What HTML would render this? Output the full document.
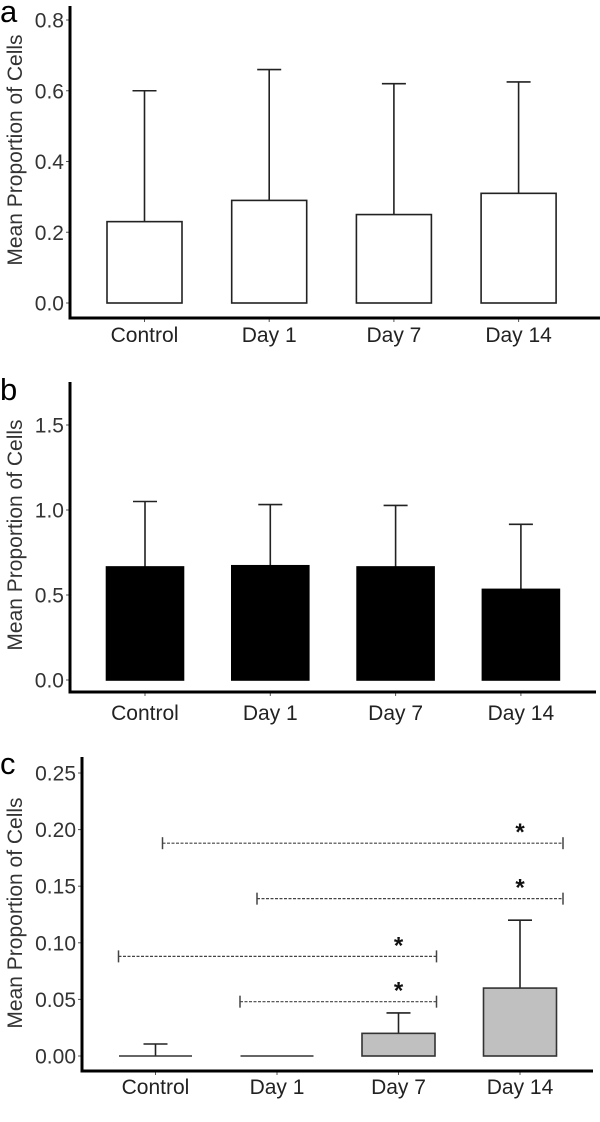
<!DOCTYPE html>
<html><head><meta charset="utf-8"><style>
body{margin:0;background:#fff}
svg{display:block;font-family:"Liberation Sans",Arial,sans-serif}
</style></head><body>
<svg id="chart" width="600" height="1122" viewBox="0 0 600 1122" xmlns="http://www.w3.org/2000/svg"></svg>
<script>
const categories = ["Control","Day 1","Day 7","Day 14"];
const aMeans = [0.23, 0.29, 0.25, 0.31];
const aErrs = [0.60, 0.66, 0.62, 0.625];
const aTicks = ["0.0","0.2","0.4","0.6","0.8"];
const aTickVals = [0, 0.2, 0.4, 0.6, 0.8];
const bMeans = [0.665, 0.672, 0.665, 0.533];
const bErrs = [1.05, 1.032, 1.027, 0.916];
const bTicks = ["0.0","0.5","1.0","1.5"];
const bTickVals = [0, 0.5, 1.0, 1.5];
const cMeans = [0, 0, 0.02, 0.06];
const cErrs = [0.0106, 0, 0.038, 0.12];
const cTicks = ["0.00","0.05","0.10","0.15","0.20","0.25"];
const cTickVals = [0, 0.05, 0.10, 0.15, 0.20, 0.25];
const cBrackets = [[0,3,0.188],[1,3,0.139],[0,2,0.088],[1,2,0.048]];

const svg = document.getElementById('chart');
const NS = 'http://www.w3.org/2000/svg';
function mk(tag, attrs, parent){const e=document.createElementNS(NS,tag);for(const k in attrs)e.setAttribute(k,attrs[k]);(parent||svg).appendChild(e);return e;}

function panel(p){
  const g = mk('g',{});
  
  
  const y = v => p.y0 - (v/p.vmax)*(p.y0-p.yTop);
  const x = i => p.x0 + i*p.step;
  const lt = mk('text',{x:0,y:p.letterY,'font-size':31,fill:'#000'},g); lt.textContent=p.letter;
  
  
  const yt = mk('text',{x:0,y:0,'font-size':21,fill:'#333','text-anchor':'middle',transform:`translate(22,${p.titleY}) rotate(-90)`},g);
  yt.textContent='Mean Proportion of Cells';
  
  
  p.tickVals.forEach((v,i)=>{
    mk('line',{x1:p.ax-4,x2:p.ax,y1:y(v),y2:y(v),stroke:'#555','stroke-width':1},g);
    const t=mk('text',{x:p.ax-6,y:y(v)+7.5,'font-size':21,fill:'#333','text-anchor':'end'},g);
    t.textContent=p.ticks[i];
    
    
  });
  categories.forEach((c,i)=>{
    const cx=x(i), m=p.means[i], e=p.errs[i];
    if(e>m){
      mk('line',{x1:cx,x2:cx,y1:y(m),y2:y(e),stroke:'#222','stroke-width':1.6},g);
      mk('line',{x1:cx-12,x2:cx+12,y1:y(e),y2:y(e),stroke:'#222','stroke-width':1.6},g);
    }
    let r;
    if(y(0)-y(m) < 1){
      r=mk('line',{x1:cx-p.bw/2,x2:cx+p.bw/2,y1:y(m),y2:y(m),stroke:p.stroke,'stroke-width':1.6},g);
    } else {
      r=mk('rect',{x:cx-p.bw/2,y:y(m),width:p.bw,height:y(0)-y(m),fill:p.fill,stroke:p.stroke,'stroke-width':1.6},g);
    }
    
    
    mk('line',{x1:cx,x2:cx,y1:p.xAxisY,y2:p.xAxisY+4,stroke:'#555','stroke-width':1},g);
    const t=mk('text',{x:cx,y:p.labelY,'font-size':21,fill:'#222','text-anchor':'middle'},g);
    t.textContent=c;
    
    
  });
  const ya=mk('line',{x1:p.ax,x2:p.ax,y1:p.axTop,y2:p.xAxisY+1.5,stroke:'#000','stroke-width':3},g);
  
  
  const xa=mk('line',{x1:p.ax-1.5,x2:p.axRight,y1:p.xAxisY,y2:p.xAxisY,stroke:'#000','stroke-width':3},g);
  
  
  if(p.brackets){
    p.brackets.forEach(b=>{
      let off = -37;
      if(b[0]===0 && b[1]===3) off = 7;
      if(b[0]===1 && b[1]===3) off = -20;
      const x1=x(b[0])+off, x2=x(b[1])+(b[1]===3?43:38), yy=y(b[2]);
      const bl=mk('line',{x1:x1,x2:x2,y1:yy,y2:yy,stroke:'#444','stroke-width':1.2,'stroke-dasharray':'3,1.5'},g);
      
      
      mk('line',{x1:x1,x2:x1,y1:yy-6,y2:yy+6,stroke:'#444','stroke-width':1.5},g);
      mk('line',{x1:x2,x2:x2,y1:yy-6,y2:yy+6,stroke:'#444','stroke-width':1.5},g);
      const s=mk('text',{x:x(b[1]),y:yy-3,'font-size':24,'font-weight':'bold',fill:'#111','text-anchor':'middle'},g);
      s.textContent='*';
      
      
    });
  }
}

panel({letter:'a',letterY:22,titleY:150,means:aMeans,errs:aErrs,ticks:aTicks,tickVals:aTickVals,vmax:0.8,
  y0:303,yTop:20,ax:70,axTop:6,xAxisY:318,axRight:600,x0:144.5,step:124.7,bw:75,fill:'#fff',stroke:'#222',labelY:342});
panel({letter:'b',letterY:400,titleY:535,means:bMeans,errs:bErrs,ticks:bTicks,tickVals:bTickVals,vmax:1.5,
  y0:680,yTop:425,ax:70,axTop:382,xAxisY:692,axRight:596,x0:145,step:125.3,bw:77,fill:'#000',stroke:'#000',labelY:720});
panel({letter:'c',letterY:774,titleY:913,means:cMeans,errs:cErrs,ticks:cTicks,tickVals:cTickVals,vmax:0.25,
  y0:1056,yTop:773,ax:82,axTop:757,xAxisY:1071,axRight:593,x0:155.5,step:121.5,bw:73,fill:'#c0c0c0',stroke:'#333',labelY:1094,brackets:cBrackets});
</script>
</body></html>
